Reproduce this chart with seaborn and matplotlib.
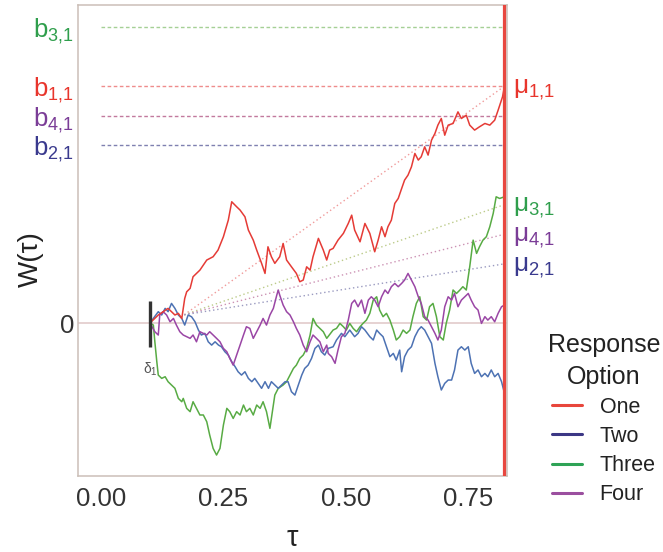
import matplotlib
matplotlib.use("Agg")
import matplotlib.pyplot as plt
from matplotlib.lines import Line2D
import pandas as pd
import seaborn as sns

# ---------------------------------------------------------------------------
# Accumulated evidence W(tau) for each response option
# ---------------------------------------------------------------------------
tau_one = [0.100, 0.117, 0.127, 0.137, 0.144, 0.151, 0.158, 0.165, 0.168, 0.171, 0.175, 0.182,
           0.188, 0.202, 0.216, 0.229, 0.239, 0.250, 0.260, 0.267, 0.277, 0.284, 0.294, 0.301,
           0.311, 0.318, 0.328, 0.335, 0.341, 0.348, 0.355, 0.365, 0.372, 0.379, 0.389, 0.399,
           0.406, 0.413, 0.420, 0.427, 0.433, 0.444, 0.454, 0.461, 0.467, 0.474, 0.484, 0.495,
           0.505, 0.512, 0.518, 0.529, 0.539, 0.549, 0.559, 0.566, 0.573, 0.580, 0.586, 0.593,
           0.600, 0.607, 0.614, 0.620, 0.627, 0.634, 0.641, 0.648, 0.654, 0.661, 0.668, 0.675,
           0.682, 0.688, 0.695, 0.702, 0.709, 0.719, 0.729, 0.736, 0.746, 0.753, 0.763, 0.773,
           0.784, 0.794, 0.804, 0.811, 0.820, 0.824]
w_one = [0.0, 0.068, 0.096, 0.124, 0.096, 0.068, 0.082, 0.039, 0.124, 0.208, 0.264, 0.293,
         0.391, 0.447, 0.532, 0.560, 0.616, 0.729, 0.869, 1.024, 0.982, 0.954, 0.897, 0.785,
         0.700, 0.616, 0.504, 0.419, 0.644, 0.560, 0.504, 0.560, 0.672, 0.532, 0.475, 0.419,
         0.349, 0.363, 0.475, 0.447, 0.560, 0.715, 0.616, 0.532, 0.616, 0.630, 0.700, 0.757,
         0.841, 0.911, 0.785, 0.686, 0.841, 0.757, 0.602, 0.700, 0.813, 0.729, 0.813, 0.869,
         1.010, 1.052, 1.136, 1.207, 1.249, 1.319, 1.432, 1.376, 1.404, 1.488, 1.418, 1.544,
         1.601, 1.671, 1.727, 1.586, 1.671, 1.685, 1.783, 1.727, 1.755, 1.671, 1.629, 1.657,
         1.685, 1.671, 1.713, 1.797, 1.910, 2.000]

tau_two = [0.100, 0.117, 0.124, 0.131, 0.137, 0.144, 0.151, 0.158, 0.165, 0.171,
           0.178, 0.185, 0.192, 0.199, 0.205, 0.212, 0.219, 0.226, 0.233, 0.240,
           0.246, 0.253, 0.260, 0.267, 0.274, 0.280, 0.287, 0.294, 0.301, 0.308,
           0.314, 0.321, 0.328, 0.335, 0.342, 0.348, 0.355, 0.362, 0.369, 0.376,
           0.382, 0.389, 0.396, 0.403, 0.410, 0.416, 0.423, 0.430, 0.437, 0.444,
           0.450, 0.457, 0.464,
           0.474, 0.481, 0.491, 0.498, 0.508, 0.518, 0.525, 0.532, 0.539, 0.549,
           0.556, 0.563, 0.569, 0.576, 0.583, 0.590, 0.597, 0.603, 0.610, 0.614,
           0.620, 0.627, 0.634, 0.641, 0.648, 0.654, 0.661, 0.668, 0.675, 0.682,
           0.688, 0.695, 0.702, 0.709, 0.716, 0.722, 0.729, 0.736, 0.743, 0.750,
           0.756, 0.763, 0.770, 0.777, 0.784, 0.790, 0.797, 0.804, 0.811, 0.818,
           0.824]
w_two = [0.0, 0.096, 0.068, 0.124, 0.096, 0.166, 0.124, 0.068, 0.039, -0.017,
         0.068, 0.053, 0.011, -0.059, -0.101, -0.087, -0.158, -0.186, -0.158, -0.186,
         -0.200, -0.242, -0.270, -0.326, -0.369, -0.411, -0.439, -0.411, -0.467, -0.495,
         -0.467, -0.509, -0.551, -0.495, -0.551, -0.495, -0.523, -0.551, -0.523, -0.495,
         -0.495, -0.580, -0.608, -0.523, -0.439, -0.383, -0.355, -0.298, -0.214, -0.186,
         -0.242, -0.270, -0.214,
         -0.200, -0.143, -0.087, -0.115, -0.059, -0.115, -0.087, -0.031, -0.059, -0.115,
         -0.143, -0.059, -0.087, -0.115, -0.200, -0.284, -0.256, -0.312, -0.228, -0.411,
         -0.284, -0.228, -0.200, -0.115, -0.059, -0.031, -0.059, -0.115, -0.171, -0.340,
         -0.453, -0.565, -0.509, -0.481, -0.481, -0.396, -0.228, -0.200, -0.228, -0.200,
         -0.340, -0.425, -0.396, -0.453, -0.425, -0.453, -0.396, -0.453, -0.425, -0.495,
         -0.593]

tau_three = [0.100, 0.107, 0.110, 0.114, 0.117, 0.124, 0.131, 0.137, 0.144, 0.151,
             0.158, 0.165, 0.168, 0.175, 0.182, 0.188, 0.195, 0.202, 0.209, 0.216,
             0.222, 0.229, 0.236, 0.243, 0.250, 0.257, 0.263, 0.270, 0.277, 0.284,
             0.291, 0.297, 0.304, 0.311, 0.318, 0.325, 0.331, 0.338, 0.345, 0.352,
             0.355, 0.362, 0.372, 0.379, 0.386, 0.393, 0.399, 0.406, 0.413, 0.420,
             0.427, 0.433, 0.440, 0.447, 0.454, 0.461,
             0.474, 0.481, 0.488, 0.495, 0.501, 0.508, 0.515, 0.522, 0.529, 0.535,
             0.542, 0.549, 0.556, 0.563, 0.569, 0.576, 0.583, 0.590, 0.597, 0.603,
             0.610, 0.617, 0.624, 0.631, 0.637, 0.644, 0.651, 0.658, 0.665, 0.671,
             0.678, 0.685, 0.692, 0.699, 0.705, 0.712, 0.719, 0.726, 0.733, 0.739,
             0.746, 0.753, 0.760, 0.767, 0.773, 0.780, 0.787, 0.794, 0.801, 0.807,
             0.814, 0.824]
w_three = [0.0, -0.017, -0.158, -0.326, -0.439, -0.467, -0.453, -0.495, -0.523, -0.551,
           -0.636, -0.664, -0.636, -0.720, -0.748, -0.664, -0.720, -0.776, -0.776, -0.833,
           -0.945, -1.058, -1.114, -1.058, -0.861, -0.720, -0.748, -0.805, -0.748, -0.776,
           -0.692, -0.748, -0.720, -0.776, -0.692, -0.720, -0.664, -0.748, -0.889, -0.692,
           -0.608, -0.551, -0.523, -0.495, -0.439, -0.383, -0.355, -0.298, -0.270, -0.214,
           -0.101, 0.039, -0.017, -0.045, -0.073, -0.129,
           -0.059, -0.045, -0.003, -0.031, -0.059, -0.003, -0.045, -0.073, -0.031, -0.003,
           0.025, 0.082, 0.194, 0.222, 0.110, 0.054, 0.082, 0.025, -0.059, -0.143,
           -0.115, -0.059, -0.087, -0.059, 0.054, 0.166, 0.222, 0.054, 0.025, 0.138,
           0.166, 0.054, -0.115, -0.143, -0.003, 0.110, 0.279, 0.250, 0.279, 0.307,
           0.279, 0.475, 0.700, 0.588, 0.644, 0.700, 0.729, 0.813, 0.926, 1.066,
           1.052, 1.066]

tau_four = [0.100, 0.110, 0.117, 0.120, 0.127, 0.134, 0.141, 0.148, 0.154, 0.161,
            0.168, 0.175, 0.182, 0.188, 0.195, 0.202, 0.209, 0.216, 0.222, 0.229,
            0.236, 0.243, 0.250, 0.257, 0.263, 0.270, 0.277, 0.284, 0.291, 0.297,
            0.304, 0.311, 0.318, 0.325, 0.331, 0.338, 0.345, 0.352, 0.359, 0.362,
            0.365, 0.372, 0.379, 0.386, 0.393, 0.399, 0.406, 0.413, 0.420, 0.427,
            0.433, 0.440, 0.447, 0.454, 0.461,
            0.464, 0.471, 0.478, 0.484, 0.491, 0.498, 0.505, 0.512, 0.518, 0.525,
            0.532, 0.539, 0.546, 0.552, 0.559, 0.566, 0.573, 0.580, 0.586, 0.593,
            0.600, 0.607, 0.614, 0.620, 0.627, 0.634, 0.641, 0.648, 0.654, 0.661,
            0.668, 0.675, 0.682, 0.688, 0.695, 0.702, 0.709, 0.716, 0.722, 0.729,
            0.736, 0.743, 0.750, 0.756, 0.763, 0.770, 0.777, 0.784, 0.790, 0.797,
            0.804, 0.811, 0.818, 0.824]
w_four = [0.0, -0.073, -0.101, 0.068, 0.096, 0.068, 0.011, 0.039, -0.017, -0.073,
          -0.101, -0.115, -0.129, -0.101, -0.158, -0.073, -0.087, -0.101, -0.073, -0.101,
          -0.129, -0.158, -0.214, -0.242, -0.298, -0.355, -0.270, -0.186, -0.101, -0.031,
          -0.045, -0.129, -0.073, -0.017, 0.039, -0.017, 0.068, 0.124, 0.236, 0.279,
          0.236, 0.152, 0.096, 0.068, 0.011, -0.045, -0.101, -0.186, -0.242, -0.158,
          -0.101, -0.129, -0.158, -0.242, -0.186,
          -0.256, -0.284, -0.340, -0.228, -0.115, -0.087, 0.025, 0.166, 0.194, 0.138,
          0.194, 0.082, 0.194, 0.222, 0.194, 0.138, 0.222, 0.279, 0.250, 0.307,
          0.335, 0.307, 0.335, 0.363, 0.419, 0.363, 0.307, 0.222, 0.166, 0.054,
          0.025, -0.031, -0.087, -0.143, -0.059, 0.138, 0.222, 0.194, 0.250, 0.138,
          0.194, 0.222, 0.250, 0.194, 0.138, 0.110, -0.003, 0.054, 0.025, 0.054,
          0.011, 0.082, 0.138, 0.152]

options = ["One", "Two", "Three", "Four"]

# Response thresholds b_{i,1}
threshold_labels = ["3,1", "1,1", "4,1", "2,1"]
threshold_values = [2.5, 2.0, 1.75, 1.5]
threshold_options = ["Three", "One", "Four", "Two"]

# Drift lines mu_{i,1}: common origin, value reached at the decision time
drift_labels = ["1,1", "3,1", "4,1", "2,1"]
drift_end_values = [2.0, 1.0, 0.75, 0.5]
drift_options = ["One", "Three", "Four", "Two"]
drift_origin_tau = 0.17
drift_origin_w = 0.07

non_decision_time = 0.10
decision_time = 0.824
x_ticks = [0.0, 0.25, 0.50, 0.75]
x_tick_labels = ["0.00", "0.25", "0.50", "0.75"]

# ---------------------------------------------------------------------------
# Styling
# ---------------------------------------------------------------------------
path_colors = {"One": "#e53b36", "Two": "#4d72b3", "Three": "#58ab44", "Four": "#9a46a5"}
key_colors = {"One": "#e8463c", "Two": "#3c3785", "Three": "#2ea356", "Four": "#9b4f9f"}
text_colors = {"One": "#e8352c", "Two": "#3a3a8e", "Three": "#2f9e4c", "Four": "#7b3d97"}
threshold_colors = {"One": "#ef8c8c", "Two": "#7f80b0", "Three": "#a5d095", "Four": "#c27a9e"}
drift_colors = {"One": "#f09a9a", "Two": "#9a9ac0", "Three": "#bccb8a", "Four": "#cc92b4"}


def subscripted(symbol, sub):
    """Mathtext label with a tight comma in the subscript."""
    return r"$\mathregular{%s_{%s}}$" % (symbol, sub.replace(",", "{,}"))


sns.set_style("white")
plt.rcParams["font.family"] = ["Liberation Sans", "DejaVu Sans"]
plt.rcParams["mathtext.fontset"] = "custom"
plt.rcParams["mathtext.rm"] = "Liberation Sans"
plt.rcParams["mathtext.it"] = "Liberation Sans:italic"

fig = plt.figure(figsize=(6.63, 5.52), dpi=100)
ax = fig.add_axes([0.1176, 0.1377, 0.647, 0.853])

# long-form table of the four evidence paths
paths = pd.concat([
    pd.DataFrame({"tau": tau_one, "W": w_one, "option": "One"}),
    pd.DataFrame({"tau": tau_two, "W": w_two, "option": "Two"}),
    pd.DataFrame({"tau": tau_three, "W": w_three, "option": "Three"}),
    pd.DataFrame({"tau": tau_four, "W": w_four, "option": "Four"}),
], ignore_index=True)

# reference line at zero
ax.axhline(0, color="#e6d2d2", lw=1.4, zorder=1)

# dashed thresholds, from tau = 0 to the decision time
for val, opt in zip(threshold_values, threshold_options):
    ax.plot([0.0, decision_time], [val, val], color=threshold_colors[opt],
            lw=1.0, ls=(0, (2.6, 1.8)), zorder=2)

# dotted drift lines
for end, opt in zip(drift_end_values, drift_options):
    ax.plot([drift_origin_tau, decision_time], [drift_origin_w, end],
            color=drift_colors[opt], lw=1.0, ls=(0, (1, 2)), zorder=2)

# the accumulator paths (draw order: Three, Two, Four, One on top)
order = ["Three", "Two", "Four", "One"]
sns.lineplot(data=paths, x="tau", y="W", hue="option", hue_order=order,
             palette=path_colors, estimator=None, sort=False, lw=1.1,
             legend=False, ax=ax, zorder=3)

# decision time
ax.axvline(decision_time, color="#e8473f", lw=2.3, zorder=4)

# non-decision time marker
ax.plot([non_decision_time, non_decision_time], [-0.2, 0.19], color="#333333",
        lw=2.4, solid_capstyle="butt", zorder=5)
ax.text(non_decision_time, -0.39, r"$\mathregular{δ_1}$", color="#555555",
        fontsize=10, ha="center", va="center")

# drift labels at the right of the panel
for lab, end, opt in zip(drift_labels, drift_end_values, drift_options):
    ax.text(decision_time + 0.018, end - 0.03, subscripted("μ", lab),
            color=text_colors[opt], fontsize=19, ha="left", va="center",
            clip_on=False)

# axes
ax.set_xlim(-0.047, 0.829)
ax.set_ylim(-1.291, 2.684)
ax.set_xticks(x_ticks)
ax.set_xticklabels(x_tick_labels)

ytick_vals = [0] + threshold_values
ytick_labels = ["0"] + [subscripted("b", l) for l in threshold_labels]
ax.set_yticks(ytick_vals)
ax.set_yticklabels(ytick_labels)
ylabs = ax.get_yticklabels()
ylabs[0].set_color("#333333")
for tl, opt in zip(ylabs[1:], threshold_options):
    tl.set_color(text_colors[opt])
    tl.set_fontsize(19)

ax.tick_params(axis="x", length=3, width=1, color="#999999", labelsize=18.5,
               labelcolor="#333333", pad=5)
ax.tick_params(axis="y", length=2.2, width=1, color="#444444", labelsize=18.5, pad=0.6)

ax.set_xlabel("τ", fontsize=21, color="#222222", labelpad=9)
ax.set_ylabel("W(τ)", fontsize=20, color="#222222")
ax.yaxis.label.set_va("center")
ax.yaxis.set_label_coords(-0.1096, 0.4607)

for sp in ax.spines.values():
    sp.set_color("#cbbfb8")
    sp.set_linewidth(1.1)

# legend
handles = [Line2D([0], [0], color=key_colors[o], lw=2.2) for o in options]
leg = ax.legend(handles, options, title="Response\nOption", frameon=False,
                loc="upper center", bbox_to_anchor=(604 / 663, 1 - 333 / 552),
                bbox_transform=fig.transFigure, fontsize=15.5, title_fontsize=18,
                handlelength=1.4, handletextpad=0.8, labelspacing=0.38,
                borderpad=0, borderaxespad=0)
leg.get_title().set_multialignment("center")
leg.get_title().set_linespacing(1.4)
leg.get_title().set_color("#222222")
for t in leg.get_texts():
    t.set_color("#222222")

fig.savefig("out.png", dpi=100)
